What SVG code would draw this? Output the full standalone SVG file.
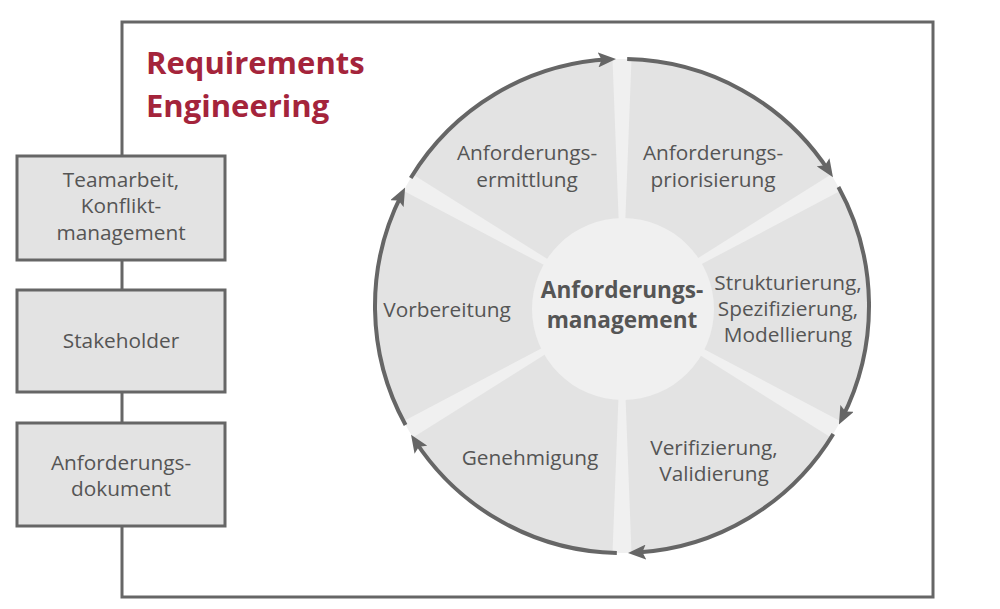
<svg xmlns="http://www.w3.org/2000/svg" width="1000" height="609" viewBox="0 0 1000 609">
<defs>
<style>
.frame{fill:none;stroke:#666;stroke-width:3}
.box{fill:#e3e3e3;stroke:#666;stroke-width:3}
.seg{fill:#e3e3e3}
.ring{fill:none;stroke:#666;stroke-width:4;marker-end:url(#arr)}
.t{font-family:"Open Sans","Noto Sans",sans-serif;font-size:20.8px;fill:#555;text-anchor:middle}
.c{font-family:"Open Sans","Noto Sans",sans-serif;font-size:22.6px;font-weight:bold;fill:#555;text-anchor:middle}
.title{font-family:"Open Sans","Noto Sans",sans-serif;font-size:31px;font-weight:bold;fill:#a4243b}
</style>
<marker id="arr" markerUnits="userSpaceOnUse" markerWidth="18" markerHeight="15" viewBox="0 0 18 15" refX="11" refY="7.5" orient="auto">
<path d="M0,0 L18,7.5 L0,15 L3.5,7.5 Z" fill="#666"/>
</marker>
</defs>
<rect width="1000" height="609" fill="#fff"/>
<g id="frame">
<rect class="frame" x="122" y="22" width="811" height="575"/>
<text class="title" x="146" y="74">Requirements</text>
<text class="title" x="146" y="117">Engineering</text>
</g>
<g id="teamarbeit">
<rect class="box" x="17" y="156" width="208" height="104"/>
<text class="t" x="121" y="187">Teamarbeit,</text>
<text class="t" x="121" y="213">Konflikt-</text>
<text class="t" x="121" y="240">management</text>
</g>
<g id="stakeholder">
<rect class="box" x="17" y="290" width="208" height="102"/>
<text class="t" x="121" y="348">Stakeholder</text>
</g>
<g id="dokument">
<rect class="box" x="17" y="423" width="208" height="103"/>
<text class="t" x="121" y="470">Anforderungs-</text>
<text class="t" x="121" y="496">dokument</text>
</g>
<g id="wheel">
<circle cx="622" cy="306" r="247" fill="#f0f0f0"/>
<g id="ermittlung">
<path class="seg" d="M622,306 L412.99,174.38 A247,247 0 0 1 612.52,59.18 Z"/>
<text class="t" x="527" y="160">Anforderungs-</text>
<text class="t" x="527" y="187">ermittlung</text>
</g>
<g id="priorisierung">
<path class="seg" d="M622,306 L631.48,59.18 A247,247 0 0 1 831.01,174.38 Z"/>
<text class="t" x="713" y="160">Anforderungs-</text>
<text class="t" x="713" y="187">priorisierung</text>
</g>
<g id="strukturierung">
<path class="seg" d="M622,306 L840.49,190.80 A247,247 0 0 1 840.49,421.20 Z"/>
<text class="t" x="788" y="290">Strukturierung,</text>
<text class="t" x="788" y="316">Spezifizierung,</text>
<text class="t" x="788" y="342">Modellierung</text>
</g>
<g id="verifizierung">
<path class="seg" d="M622,306 L831.01,437.62 A247,247 0 0 1 631.48,552.82 Z"/>
<text class="t" x="714" y="455">Verifizierung,</text>
<text class="t" x="714" y="481">Validierung</text>
</g>
<g id="genehmigung">
<path class="seg" d="M622,306 L612.52,552.82 A247,247 0 0 1 412.99,437.62 Z"/>
<text class="t" x="530" y="465">Genehmigung</text>
</g>
<g id="vorbereitung">
<path class="seg" d="M622,306 L403.51,421.20 A247,247 0 0 1 403.51,190.80 Z"/>
<text class="t" x="447" y="317">Vorbereitung</text>
</g>
<g id="management">
<circle cx="623" cy="309" r="91" fill="#f0f0f0"/>
<text class="c" x="622" y="298">Anforderungs-</text>
<text class="c" x="622" y="328">management</text>
</g>
</g>
<g id="connectors">
<path class="ring" d="M627.17,59.05 A247,247 0 0 1 829.15,171.47"/>
<path class="ring" d="M838.45,187.01 A247,247 0 0 1 842.08,418.14"/>
<path class="ring" d="M833.27,433.95 A247,247 0 0 1 634.93,552.66"/>
<path class="ring" d="M616.83,552.95 A247,247 0 0 1 414.85,440.53"/>
<path class="ring" d="M405.55,424.99 A247,247 0 0 1 401.92,193.86"/>
<path class="ring" d="M410.73,178.05 A247,247 0 0 1 609.07,59.34"/>
</g>
</svg>
